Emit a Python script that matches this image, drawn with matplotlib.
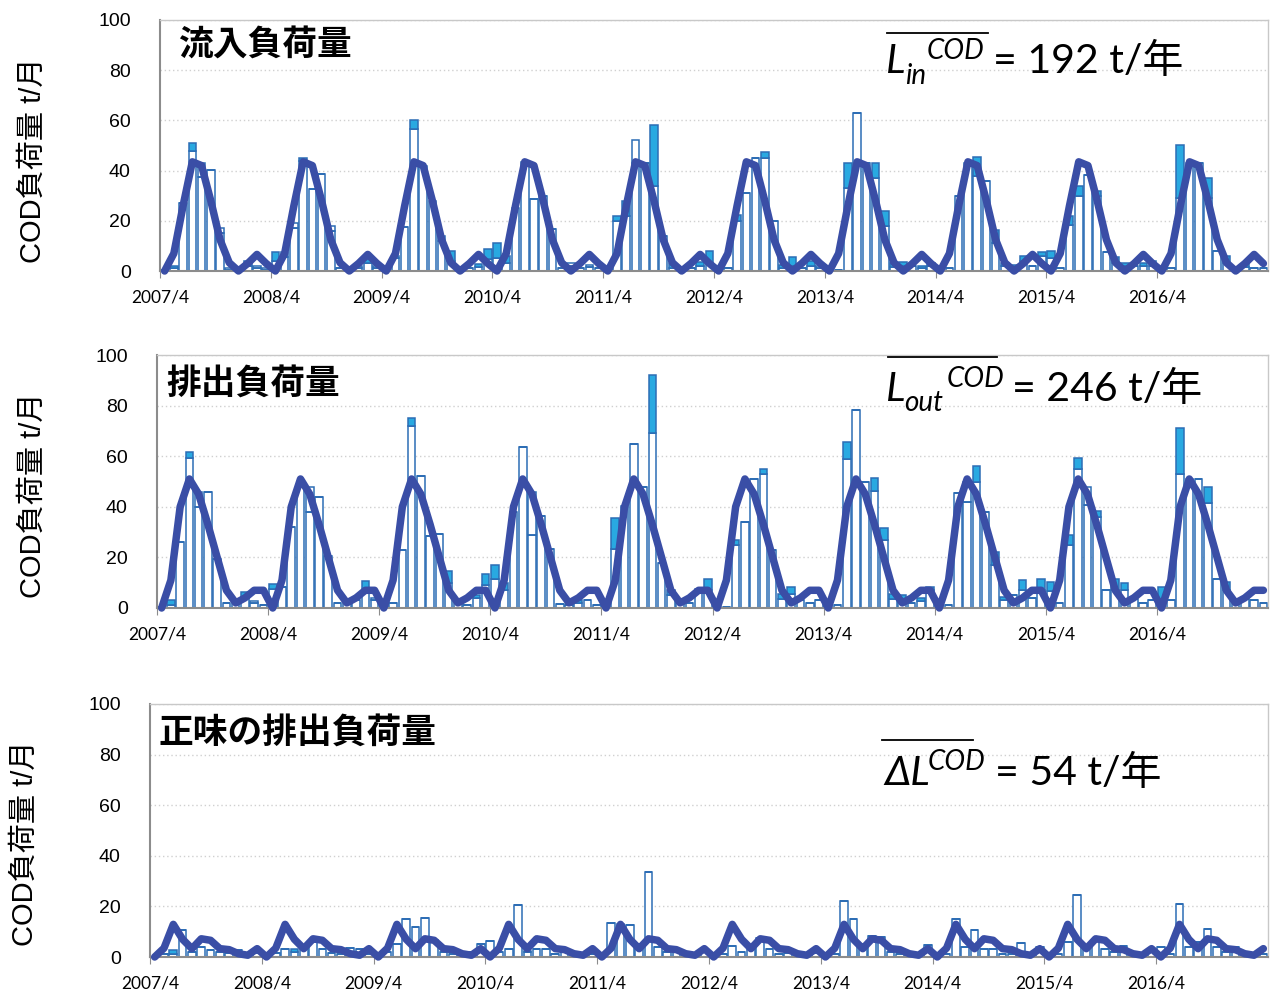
import numpy as np
import matplotlib.pyplot as plt
from matplotlib.lines import Line2D

# ---- data (monthly, 2007/4 .. 2017/3) ----
tick_labels = ['2007/4', '2008/4', '2009/4', '2010/4', '2011/4',
               '2012/4', '2013/4', '2014/4', '2015/4', '2016/4']

# inflow load (t/month): white bars and blue bars
in_white = [0.5, 1, 27, 48, 43, 40.4, 17, 1, 1, 2, 2, 1,
            4, 5.5, 19, 44, 32.5, 38.8, 18, 1, 1, 2, 3, 2,
            1, 6, 17.5, 56.5, 42, 28, 14, 4, 1, 1, 1.5, 4.6,
            5, 3, 25, 43.6, 28.7, 30, 16.8, 1, 3.3, 1, 2.4, 1,
            1, 20, 22, 52, 43, 34, 14, 1, 1, 1, 2, 3.3,
            1, 1, 20, 31, 45, 45, 20, 1, 2, 1, 2, 2,
            1, 0.5, 33, 63, 43, 37, 18, 1.5, 2, 2, 1, 2,
            1, 1, 30, 43, 38, 36, 11, 2, 1.5, 4, 2, 6,
            5, 1, 18.5, 30, 38.4, 30, 7.5, 3, 2, 2, 2, 2,
            1, 1, 29, 43, 43, 29, 8, 3, 1, 1.5, 1, 1]
in_blue = [0.3, 2, 27, 51, 37.5, 40.4, 15, 0.5, 0.5, 4, 1, 0.5,
           7.5, 7.5, 17, 45, 32.5, 38.8, 16, 1, 1, 1, 6, 1,
           1, 5, 17.5, 60, 42, 28, 12, 8, 1, 1, 2.6, 8.6,
           11, 6, 25, 43.6, 28.7, 30, 16.8, 1, 2, 1, 1.5, 1,
           1, 22, 28, 43, 43, 58, 14, 3.3, 1, 1, 3.6, 8,
           1, 1, 22.5, 31, 45, 47.6, 20, 2.4, 5.7, 1, 4, 1,
           1, 0.5, 43, 63, 43, 43, 24, 3, 3.5, 2, 2, 3,
           1, 1, 30, 43, 45.4, 36, 16.5, 3.3, 2.5, 6, 2, 7.5,
           8, 1, 22, 34, 38.4, 31.7, 7.5, 5.7, 3.3, 2, 3, 4,
           1, 1, 50, 43, 43, 37, 8, 6, 1, 2.6, 1, 1]

# outflow load
out_white = [0.5, 1, 26, 59.2, 46, 45.7, 19.5, 2, 2, 4, 2.6, 1,
             7.5, 8.2, 32, 50, 48, 43.7, 20.4, 2, 2, 3, 7, 4,
             1, 2, 22.8, 71.8, 52, 28.5, 29.4, 9.8, 2, 1, 4, 8.9,
             11.5, 7, 38, 63.6, 46, 36.4, 23.4, 1.5, 1, 2, 3.2, 1,
             0.5, 23.4, 40.4, 65, 48, 69, 17.7, 5, 2, 2, 7.5, 7,
             0.5, 0.5, 24.8, 34, 51, 53, 23, 3.6, 5.6, 3, 2, 3,
             0.5, 1, 58.8, 78.4, 50, 46.2, 26.8, 3.6, 3.6, 2, 2.6, 7,
             0.5, 1, 45.3, 50, 50, 38, 16.8, 3, 5, 7.2, 4, 7.2,
             6.9, 2, 24.8, 54.8, 48, 36, 7.2, 7.2, 7, 3.6, 2, 3,
             3.6, 3, 53, 51, 51, 41.6, 11.5, 7, 2, 3.6, 3.2, 2]
out_blue = [0.5, 3.2, 26, 61.6, 40, 45.7, 19.5, 2, 2, 6.2, 2, 1,
            9.3, 8.2, 32, 50, 38, 43.7, 20.4, 2, 2, 3, 10.6, 3,
            1, 2, 22.8, 75, 52, 28.5, 29.4, 14.6, 2, 1, 5.3, 13.5,
            16.8, 9.8, 38, 63.6, 29, 36.4, 23.4, 1.5, 1, 3.2, 3.2, 1,
            0.5, 35.4, 40.4, 65, 48, 92, 17.7, 7, 2, 2, 7.5, 11.3,
            0.5, 0.5, 27, 34, 51, 55, 23, 5.6, 8.2, 3, 2, 3,
            0.5, 1, 65.8, 78.4, 50, 51.5, 31.7, 5.6, 5.2, 2, 4, 8.2,
            0.5, 1, 45.3, 42, 56, 38, 22, 4.2, 5, 10.9, 4, 11.3,
            10.2, 2, 28.7, 59.2, 40.7, 38.4, 7.2, 11.5, 9.8, 3.6, 2, 3,
            8.2, 3, 71, 51, 51, 48, 11.5, 10.2, 2, 3.6, 3.2, 2]

# net load
net_white = [0, 1, 1, 10.8, 2, 4, 2.6, 2, 1.5, 2.9, 1, 1.5,
             0.5, 1.5, 3, 2, 3, 6, 3, 1.5, 1, 3.7, 3, 1,
             1, 2, 5, 15.1, 11.8, 15.5, 6.6, 2, 1, 1.5, 2, 5.2,
             6.2, 2, 3, 20.4, 2, 3, 3, 1, 2, 1, 1.5, 1,
             0.5, 13.4, 13, 12.6, 5, 33.5, 4, 2, 3, 1, 1, 2,
             0.5, 1, 4.5, 2, 3, 7.7, 3, 1, 1.5, 1, 1, 1.5,
             0.5, 1, 22.3, 15.2, 5, 8.4, 8, 2, 1, 1, 1, 4.9,
             0.5, 1, 15.2, 4, 10.7, 3, 3, 1, 1, 5.4, 1, 4.1,
             1, 1, 6, 24.5, 4, 7, 3, 2, 4.5, 1, 1, 2,
             4.1, 1, 20.9, 4, 6, 11, 4, 2, 4.1, 1, 1, 1]
net_blue = [0, 1, 2.6, 10.8, 2, 4, 2.6, 2, 1.5, 2.9, 1, 1.5,
            0.5, 1.5, 3, 3.3, 3, 6, 3, 1.5, 1, 3.7, 3, 1,
            1, 2, 5, 15.1, 11.8, 15.5, 6.6, 2, 1, 1.5, 2, 5.2,
            6.2, 2, 3, 20.4, 2.5, 3, 3, 1, 2, 1, 1.5, 1,
            0.5, 13.4, 13, 12.6, 5, 33.5, 4, 2, 3, 1, 1, 2,
            0.5, 1, 4.5, 2, 3, 7.7, 3, 1, 1.5, 1, 1, 1.5,
            0.5, 1, 22.3, 15.2, 5, 8.4, 8, 2, 1, 1, 1, 4.9,
            0.5, 1, 15.2, 4, 10.7, 3, 3, 1, 1, 5.4, 1, 4.1,
            1, 1, 6, 24.5, 4, 7, 3, 2, 4.5, 1, 1, 2,
            4.1, 1, 20.9, 4, 6, 11, 4, 2, 4.1, 1, 1, 1]

# mean seasonal pattern (Apr..Mar), same every year
in_season = [0, 7, 26, 43.5, 42, 28, 12.5, 3.3, 0, 3, 6.6, 3]
out_season = [0, 11, 40, 51, 45, 33, 20, 7, 2, 4, 7, 7]
net_season = [0, 3.5, 12.9, 7, 3.3, 7.2, 6.6, 3.3, 2.9, 1.3, 0.7, 3.3]

# ---- styling ----
BLUE = '#29a9e1'
EDGE = '#2c6db5'
LINE = '#3a4ea6'
JP = ['Liberation Sans', 'Noto Sans CJK JP']
LAT = ['Lato', 'Noto Sans CJK JP', 'DejaVu Sans']

W_PX, H_PX = 1271, 994
fig = plt.figure(figsize=(W_PX / 100, H_PX / 100), dpi=100)


def px_axes(l, t, r, b):
    return fig.add_axes([l / W_PX, 1 - b / H_PX, (r - l) / W_PX, (b - t) / H_PX])


def ftext(x, y, s, **kw):
    return fig.text(x / W_PX, 1 - y / H_PX, s, **kw)


def overline(x0, x1, y):
    fig.add_artist(Line2D([x0 / W_PX, x1 / W_PX], [1 - y / H_PX] * 2,
                          color='black', lw=1.3, transform=fig.transFigure))


def draw_panel(ax, white, blue, season):
    months = np.arange(len(white))
    white = np.array(white, dtype=float)
    blue = np.array(blue, dtype=float)
    low = np.minimum(white, blue)
    kw = dict(width=0.82, edgecolor=EDGE, linewidth=1.1, zorder=2)
    ax.bar(months, low, color='white', **kw)
    ax.bar(months, np.clip(white - blue, 0, None), bottom=low, color='white', **kw)
    ax.bar(months, np.clip(blue - white, 0, None), bottom=low, color=BLUE, **kw)
    ax.plot(months, np.tile(season, len(white) // 12), color=LINE, lw=5.4,
            solid_joinstyle='round', solid_capstyle='round', zorder=5, clip_on=False)

    ax.set_xlim(-0.5, len(white) - 0.5)
    ax.set_ylim(0, 100)
    ax.set_yticks(range(0, 101, 20))
    ax.set_xticks(np.arange(len(tick_labels)) * 12 - 0.5)
    ax.set_xticklabels(tick_labels, family=LAT, fontsize=12.5)
    for lab in ax.get_yticklabels():
        lab.set_family(JP)
        lab.set_fontsize(14)
    ax.tick_params(axis='y', length=0, pad=21)
    ax.tick_params(axis='x', length=5, color='#8c8c8c', pad=8)
    ax.yaxis.grid(True, color='#d0d0d0', linestyle=(0, (1, 2)), lw=1)
    ax.set_axisbelow(True)
    for s in ['top', 'right']:
        ax.spines[s].set_color('#c8c8c8')
        ax.spines[s].set_linewidth(1)
    for s in ['left', 'bottom']:
        ax.spines[s].set_color('#8c8c8c')
        ax.spines[s].set_linewidth(1.5)


ax1 = px_axes(160, 20, 1268, 271)
draw_panel(ax1, in_white, in_blue, in_season)
ax2 = px_axes(157, 355, 1268, 608)
draw_panel(ax2, out_white, out_blue, out_season)
ax3 = px_axes(150, 704, 1268, 957)
draw_panel(ax3, net_white, net_blue, net_season)

# y labels
for x, y in [(33, 160), (33, 495), (25, 843)]:
    ftext(x, y, 'COD負荷量 t/月', rotation=90, ha='center', va='center',
          family=JP, fontsize=21)

# panel titles
title_kw = dict(family=['Noto Sans CJK JP'], fontweight='bold', fontsize=25,
                va='center', ha='left')
ftext(178, 45, '流入負荷量', **title_kw)
ftext(166, 383, '排出負荷量', **title_kw)
ftext(158, 732, '正味の排出負荷量', **title_kw)

# mean annual load annotations
big = dict(family=LAT, fontsize=29.5, va='baseline', ha='left')
small = dict(family=LAT, fontsize=20, style='italic', va='baseline', ha='left')

ftext(886, 73, 'L', style='italic', **big)
ftext(905, 84, 'in', **small)
ftext(927, 59, 'COD', **small)
overline(887, 988, 33)
ftext(993, 73, '= 192 t/年', **big)

ftext(886, 401, 'L', style='italic', **big)
ftext(904, 411, 'out', **small)
ftext(947, 387, 'COD', **small)
overline(888, 997, 357)
ftext(1012, 401, '= 246 t/年', **big)

ftext(884, 785, 'ΔL', style='italic', **big)
ftext(928, 770, 'COD', **small)
overline(882, 973, 740)
ftext(995, 785, '= 54 t/年', **big)

fig.savefig('out.png', dpi=100)
